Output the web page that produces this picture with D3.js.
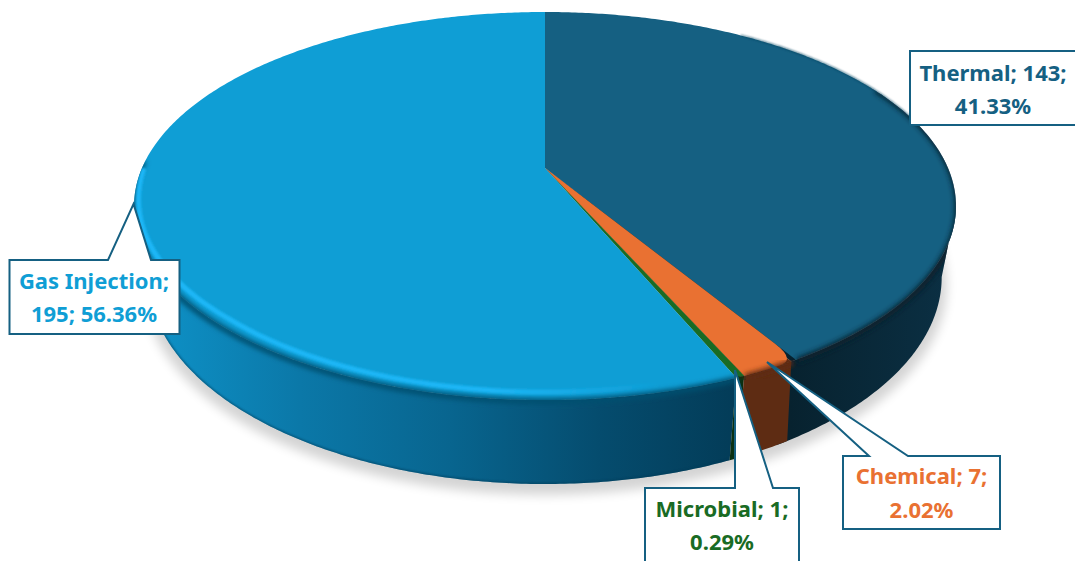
<!DOCTYPE html>
<html>
<head>
<meta charset="utf-8">
<title>EOR methods</title>
<script src="https://cdn.jsdelivr.net/npm/d3@7"></script>
<style>
  html, body { margin: 0; padding: 0; background: #fff; overflow: hidden; }
  svg { display: block; }
  text { font-family: "Noto Sans", sans-serif; font-weight: 700; font-size: 22px; text-anchor: middle; }
</style>
</head>
<body>
<svg id="chart" width="1075" height="561"></svg>
<script>
// Slices, clockwise from twelve o'clock
const categories = ["Thermal", "Chemical", "Microbial", "Gas Injection"];
const counts = [143, 7, 1, 195];
const topColors = ["#156082", "#E97132", "#196B24", "#0F9ED5"];
const labelBreaks = [2, 2, 2, 1]; // how many parts of each label sit on the first line

// Side-wall shading by horizontal position
const sideStops = [
  { x: [790, 957], c: ["#07222f", "#0b3044"] },
  { x: [740, 800], c: ["#5e2c13", "#5e2c13"] },
  { x: [725, 745], c: ["#0a3012", "#0a3012"] },
  { x: [140, 300, 450, 600, 735], c: ["#0e93c9", "#0b78a8", "#08658f", "#054c6e", "#033c58"] }
];

// Callouts: box corners, pointer tip and pointer base on the box edge
const callouts = [
  { box: [910, 51, 1080, 125], tip: [914, 125], base: [[938, 125], [918, 125]], edge: "bottom", cx: 993, lines: [81, 114] },
  { box: [843, 456, 1000, 529], tip: [767, 362], base: [[869, 456], [908, 456]], edge: "top", cx: 921.5, lines: [484, 518] },
  { box: [645, 488, 799, 580], tip: [735, 370], base: [[735, 488], [773, 488]], edge: "top", cx: 722, lines: [517, 550] },
  { box: [9.5, 260, 179.5, 334], tip: [133.5, 204], base: [[108, 260], [151, 260]], edge: "top", cx: 94, lines: [289, 322] }
];

const total = d3.sum(counts);
const slices = d3.pie().sort(null).startAngle(0).endAngle(2 * Math.PI)(counts);

// Perspective disc: maps polar position on the pie onto the page
const center = [545, 168];
const lid = { y0: center[1], a: 403, b: 186.6, k: 0.196 };
const base = { y0: 236.5, a: 389, b: 199, k: 0.196 };
const project = (disc, angle, r = 1) => {
  const rr = typeof r === "function" ? r(angle) : r;
  const u = rr * Math.sin(angle), v = -rr * Math.cos(angle), w = 1 - disc.k * v;
  return [center[0] + disc.a * u / w, disc.y0 + disc.b * v / w];
};
const arcPoints = (disc, a0, a1, r = 1, step = 0.01) => {
  const n = Math.max(1, Math.ceil(Math.abs(a1 - a0) / step));
  return d3.range(n + 1).map(i => project(disc, a0 + (a1 - a0) * i / n, r));
};
const line = d3.line();

// Angles at which a disc reaches its rightmost and leftmost points on the page
const sweep = d3.range(0, 2 * Math.PI, 0.002);
const rightmost = disc => d3.greatest(sweep, a => project(disc, a)[0]);
const leftmost = disc => d3.least(sweep, a => project(disc, a)[0]);

const svg = d3.select("#chart");
const defs = svg.append("defs");
[["soft", 2.4], ["shadowBlur", 5.5], ["glow", 1.3], ["edge", 0.8]].forEach(([id, sd]) => {
  defs.append("filter").attr("id", id)
    .attr("x", "-10%").attr("y", "-10%").attr("width", "120%").attr("height", "120%")
    .append("feGaussianBlur").attr("stdDeviation", sd);
});
const fade = defs.append("linearGradient").attr("id", "bandFade")
  .attr("gradientUnits", "userSpaceOnUse").attr("x1", 130).attr("x2", 660).attr("y1", 0).attr("y2", 0);
[[0, 1], [0.68, 0.95], [1, 0]].forEach(([o, a]) =>
  fade.append("stop").attr("offset", o).attr("stop-color", "#1DB7F7").attr("stop-opacity", a));

// One horizontal gradient per slice wall
sideStops.forEach((s, i) => {
  const x0 = s.x[0], x1 = s.x[s.x.length - 1];
  const g = defs.append("linearGradient").attr("id", "wall" + i)
    .attr("gradientUnits", "userSpaceOnUse").attr("x1", x0).attr("x2", x1).attr("y1", 0).attr("y2", 0);
  s.x.forEach((x, j) => g.append("stop").attr("offset", (x - x0) / (x1 - x0)).attr("stop-color", s.c[j]));
});

// Ground shadow
svg.append("path")
  .attr("d", line(arcPoints(base, 0, 2 * Math.PI, 1.012)) + "Z")
  .attr("transform", "translate(0,7)")
  .attr("fill", "#000").attr("opacity", 0.17)
  .attr("filter", "url(#shadowBlur)");

// Side walls: lid rim out to the silhouette, then back along the foot
const wallOutline = (lidFrom, lidTo, baseFrom, baseTo) =>
  line([...arcPoints(lid, lidFrom, lidTo), ...arcPoints(base, baseFrom, baseTo)]) + "Z";
const cornerInset = 0.012; // the chemical wall starts just inside its rounded corner
const walls = [
  wallOutline(rightmost(lid), slices[0].endAngle + 0.03, slices[0].endAngle + 0.03, rightmost(base)),
  wallOutline(slices[1].startAngle + cornerInset, slices[1].endAngle, slices[1].endAngle, slices[1].startAngle),
  wallOutline(slices[2].startAngle, slices[2].endAngle, slices[2].endAngle, slices[2].startAngle),
  wallOutline(slices[3].startAngle, leftmost(lid), leftmost(base), slices[3].startAngle)
];
[3, 0, 2, 1].forEach(i => {
  svg.append("path").attr("d", walls[i]).attr("fill", `url(#wall${i})`);
});

const clip = defs.append("clipPath").attr("id", "solid");
clip.append("path").attr("d", line(arcPoints(lid, 0, 2 * Math.PI)) + "Z");
walls.forEach(d => clip.append("path").attr("d", d));

// Darker line along the foot of the wall
const foot = slices[3];
svg.append("path")
  .attr("d", line(arcPoints(base, foot.startAngle, 4.75)))
  .attr("fill", "none").attr("stroke", "#033c58").attr("stroke-width", 2)
  .attr("opacity", 0.7).attr("filter", "url(#edge)").attr("clip-path", "url(#solid)");

// Lid of each slice; the chemical wedge has a rounded outer corner
const lidGroup = svg.append("g");
const chem = slices[1];
lidGroup.append("path")
  .attr("d", line([center, ...arcPoints(lid, chem.startAngle - 0.01, chem.startAngle + cornerInset)]) + "Z")
  .attr("fill", sideStops[0].c[0]);
lidGroup.append("path")
  .attr("d", line([center, ...arcPoints(lid, chem.startAngle + cornerInset, chem.endAngle)]) + "Z")
  .attr("fill", sideStops[1].c[0]);

slices.forEach((s, i) => {
  let d;
  if (i === 1) {
    const a = project(lid, s.startAngle, 0.93);
    const corner = project(lid, s.startAngle, 1);
    const b = project(lid, s.startAngle + 0.04, 1);
    const rest = arcPoints(lid, s.startAngle + 0.04, s.endAngle);
    d = `M${center}L${a}Q${corner} ${b}` + line(rest).replace("M", "L") + "Z";
  } else {
    d = line([center, ...arcPoints(lid, s.startAngle, s.endAngle)]) + "Z";
  }
  lidGroup.append("path").attr("d", d).attr("fill", topColors[i]);
});

// Soft bevel where lid meets wall
const bevel = svg.append("g").attr("clip-path", "url(#solid)");
const bevelRanges = [
  [3, slices[3].startAngle, 4.75, "#05506f"],
  [2, slices[2].startAngle, slices[2].endAngle, sideStops[2].c[0]],
  [1, slices[1].startAngle + cornerInset, slices[1].endAngle, sideStops[1].c[0]],
  [0, 1.1, slices[0].endAngle, sideStops[0].c[0]]
];
bevel.selectAll(null).data(bevelRanges).join("path")
  .attr("d", d => line(arcPoints(lid, d[1], d[2], 1.004)))
  .attr("fill", "none").attr("stroke", d => d[3]).attr("stroke-width", 6)
  .attr("filter", "url(#soft)");

// Bright highlight on the gas injection rim, hugging the edge towards the left
const highlightRadius = a => 0.972 + 0.022 * Math.max(0, Math.min(1, (a - 3.9) / 0.8));
svg.append("path")
  .attr("d", line(arcPoints(lid, slices[3].startAngle + 0.05, 4.7, highlightRadius)))
  .attr("fill", "none").attr("stroke", "url(#bandFade)").attr("stroke-width", 5)
  .attr("stroke-linecap", "round")
  .attr("filter", "url(#glow)")
  .attr("clip-path", "url(#solid)");

// Thin outline on the far thermal rim
svg.append("path")
  .attr("d", line(arcPoints(lid, 0.6, 1.3)))
  .attr("fill", "none").attr("stroke", "#0c4560").attr("stroke-width", 1.2)
  .attr("filter", "url(#edge)");

// Callouts
const calloutPath = c => {
  const [x0, y0, x1, y1] = c.box;
  if (c.edge === "top") {
    return line([[x0, y0], c.base[0], c.tip, c.base[1], [x1, y0], [x1, y1], [x0, y1]]) + "Z";
  }
  return line([[x0, y0], [x1, y0], [x1, y1], c.base[0], c.tip, c.base[1], [x0, y1]]) + "Z";
};
const labels = svg.append("g");
callouts.forEach((c, i) => {
  labels.append("path").attr("d", calloutPath(c))
    .attr("fill", "#fff").attr("stroke", "#156082").attr("stroke-width", 2)
    .attr("stroke-linejoin", "miter");
  const pct = (counts[i] / total * 100).toFixed(2) + "%";
  const parts = [categories[i] + ";", counts[i] + ";", pct];
  const rows = [parts.slice(0, labelBreaks[i]).join(" "), parts.slice(labelBreaks[i]).join(" ")];
  rows.forEach((t, r) => labels.append("text")
    .attr("x", c.cx).attr("y", c.lines[r]).attr("fill", topColors[i]).text(t));
});
</script>
</body>
</html>
